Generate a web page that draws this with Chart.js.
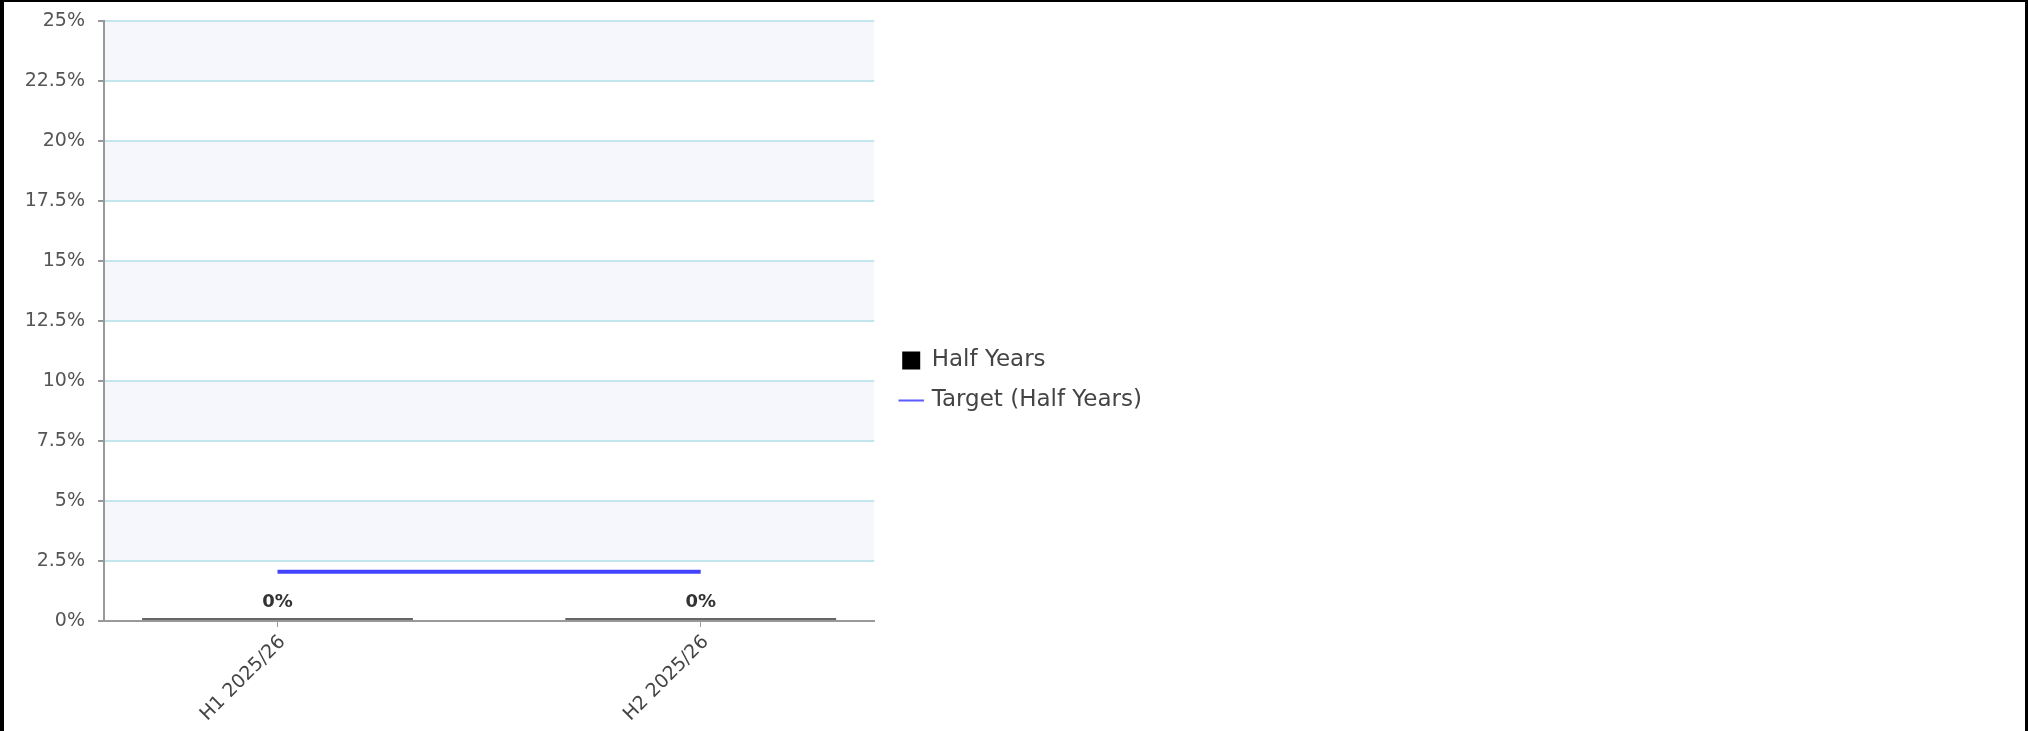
<!DOCTYPE html>
<html>
<head>
<meta charset="utf-8">
<script src="https://cdn.jsdelivr.net/npm/chart.js@4.4.1/dist/chart.umd.min.js"></script>
<style>
  html, body { margin: 0; padding: 0; background: #fff; overflow: hidden; }
  #frame {
    box-sizing: border-box;
    width: 2028px;
    height: 731px;
    border-left: 4px solid #000;
    border-top: 2px solid #000;
    border-right: 3px solid #000;
    overflow: hidden;
  }
  canvas { display: block; }
</style>
</head>
<body>
<div id="frame"><canvas id="chart" width="1148" height="738"></canvas></div>
<script>
// chart values
const categories = ['H1 2025/26', 'H2 2025/26'];
const halfYearValues = [0, 0];
const targetValues = [2.05, 2.05];
const yMax = 25;
const yStep = 2.5;

Chart.defaults.font.family = '"DejaVu Sans", Verdana, sans-serif';

// alternating light bands behind the grid
const bandPlugin = {
  id: 'bands',
  beforeDraw(chart) {
    const { ctx, chartArea } = chart;
    const y = chart.scales.y;
    ctx.save();
    ctx.fillStyle = '#f6f7fd';
    for (let i = 0; i < y.ticks.length - 1; i++) {
      if (i % 2 === 0) continue;
      const top = y.getPixelForValue(y.ticks[i + 1].value);
      const bottom = y.getPixelForValue(y.ticks[i].value);
      ctx.fillRect(chartArea.left, top, chartArea.right - chartArea.left, bottom - top);
    }
    ctx.restore();
  }
};

// value labels above the bars
const valueLabelPlugin = {
  id: 'valueLabels',
  afterDatasetsDraw(chart) {
    const { ctx } = chart;
    const meta = chart.getDatasetMeta(0);
    ctx.save();
    ctx.font = 'bold 18px "DejaVu Sans", Verdana, sans-serif';
    ctx.fillStyle = '#333';
    ctx.textAlign = 'center';
    ctx.textBaseline = 'bottom';
    meta.data.forEach((bar, i) => {
      ctx.fillText(halfYearValues[i] + '%', bar.x, bar.y - 7);
    });
    ctx.restore();
  }
};

const ctx = document.getElementById('chart').getContext('2d');

new Chart(ctx, {
  type: 'bar',
  data: {
    datasets: [
      {
        type: 'bar',
        label: 'Half Years',
        data: halfYearValues.map((v, i) => ({ x: i, y: v })),
        backgroundColor: '#666',
        borderWidth: 0,
        minBarLength: 3,
        barPercentage: 0.8,
        categoryPercentage: 0.8,
        pointStyle: 'rect'
      },
      {
        type: 'line',
        label: 'Target (Half Years)',
        data: targetValues.map((v, i) => ({ x: i, y: v })),
        borderColor: '#4343ff',
        backgroundColor: '#4343ff',
        borderWidth: 4,
        pointRadius: 0,
        pointStyle: 'line',
        tension: 0
      }
    ]
  },
  options: {
    responsive: false,
    animation: false,
    events: [],
    layout: { padding: { top: 19, left: 0, right: 0, bottom: 0 } },
    scales: {
      x: {
        type: 'linear',
        min: -0.41,
        max: categories.length - 1 + 0.41,
        offset: false,
        afterBuildTicks: (scale) => {
          scale.ticks = categories.map((_, i) => ({ value: i }));
        },
        afterFit: (scale) => { scale.height = 119; },
        ticks: {
          autoSkip: false,
          minRotation: 45,
          maxRotation: 45,
          padding: 4,
          labelOffset: 5,
          color: '#444',
          font: { size: 19 },
          callback: (v) => categories[v]
        },
        grid: {
          offset: false,
          drawOnChartArea: false,
          tickColor: '#999',
          tickLength: 6
        },
        border: { color: '#999', width: 2 }
      },
      y: {
        min: 0,
        max: yMax,
        afterFit: (scale) => {
          scale.width = 100;
          scale.paddingTop = 0;
          scale.paddingBottom = 0;
        },
        ticks: {
          stepSize: yStep,
          padding: 13,
          color: '#555',
          font: { size: 19 },
          callback: (v) => v + '%'
        },
        grid: {
          color: '#c2e5ee',
          lineWidth: 2,
          tickColor: '#999',
          tickLength: 6
        },
        border: { color: '#999', width: 2 }
      },
      // invisible spacer between the plot and the legend
      pad: {
        type: 'linear',
        position: 'right',
        display: false,
        afterFit: (scale) => { scale.width = 11; }
      }
    },
    plugins: {
      tooltip: { enabled: false },
      legend: {
        position: 'right',
        align: 'center',
        labels: {
          usePointStyle: true,
          boxWidth: 18,
          boxHeight: 18,
          padding: 17,
          color: '#444',
          font: { size: 23 },
          generateLabels: (chart) => {
            const items = Chart.defaults.plugins.legend.labels.generateLabels(chart)
              .sort((a, b) => a.datasetIndex - b.datasetIndex);
            items[0].fillStyle = '#000';
            items[0].strokeStyle = '#000';
            items[0].lineWidth = 0;
            items[0].pointStyle = 'rect';
            items[1].strokeStyle = '#5a5aff';
            items[1].lineWidth = 2;
            items[1].pointStyle = 'line';
            return items;
          }
        }
      }
    }
  },
  plugins: [bandPlugin, valueLabelPlugin]
});
</script>
</body>
</html>
